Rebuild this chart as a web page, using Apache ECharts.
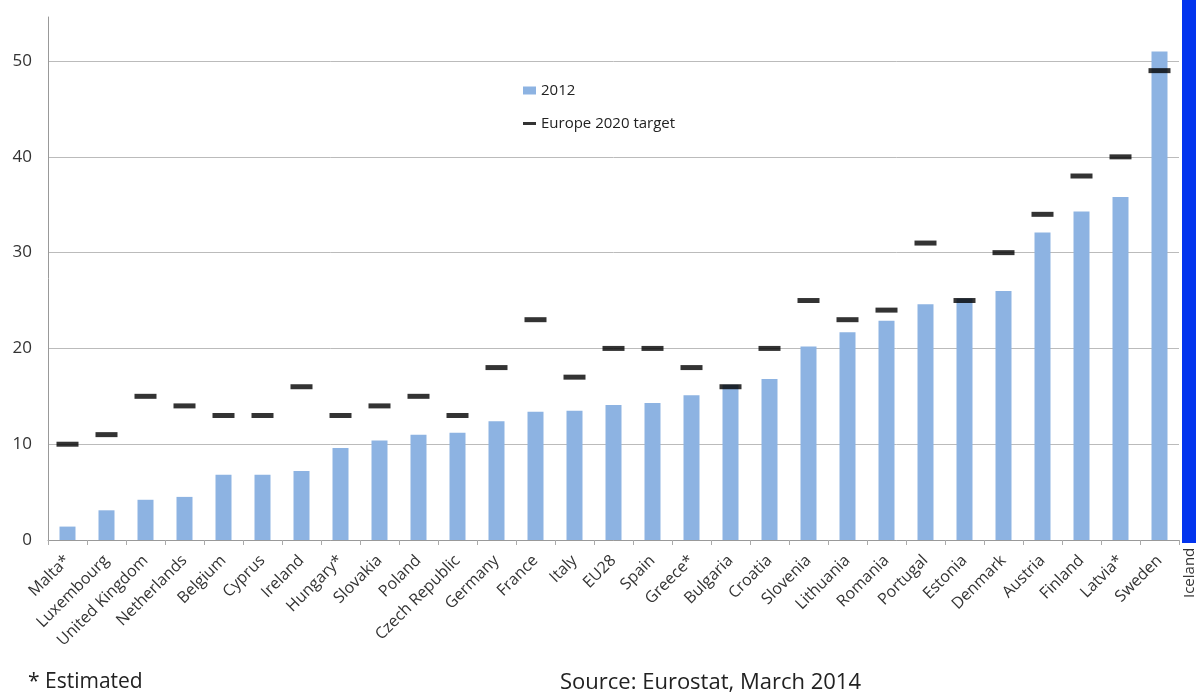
<!DOCTYPE html>
<html>
<head>
<meta charset="utf-8">
<script src="https://cdn.jsdelivr.net/npm/echarts@6/dist/echarts.min.js"></script>
<style>
html,body{margin:0;padding:0;background:#fff;}
#chart{width:1196px;height:696px;}
</style>
</head>
<body>
<div id="chart"></div>
<script>
var categories = ['Malta*','Luxembourg','United Kingdom','Netherlands','Belgium','Cyprus','Ireland','Hungary*','Slovakia','Poland','Czech Republic','Germany','France','Italy','EU28','Spain','Greece*','Bulgaria','Croatia','Slovenia','Lithuania','Romania','Portugal','Estonia','Denmark','Austria','Finland','Latvia*','Sweden'];
var values2012 = [1.4,3.1,4.2,4.5,6.8,6.8,7.2,9.6,10.4,11.0,11.2,12.4,13.4,13.5,14.1,14.3,15.1,16.2,16.8,20.2,21.7,22.9,24.6,25.2,26.0,32.1,34.3,35.8,51.0];
var targets2020 = [10,11,15,14,13,13,16,13,14,15,13,18,23,17,20,20,18,16,20,25,23,24,31,25,30,34,38,40,49];
var yTicks = [0,10,20,30,40,50];

var chart = echarts.init(document.getElementById('chart'));
var font = 'Open Sans, Liberation Sans, sans-serif';
chart.setOption({
  animation: false,
  backgroundColor: '#fff',
  grid: {left: 48, right: 17, top: 17, bottom: 156},
  legend: {
    orient: 'vertical',
    left: 518, top: 78,
    itemGap: 18,
    itemWidth: 13, itemHeight: 8,
    textStyle: {fontFamily: font, fontSize: 15, color: '#222'},
    data: [
      {name: '2012', icon: 'rect', itemStyle: {color: '#8DB3E2'}},
      {name: 'Europe 2020 target', icon: 'path://M0,3.5L13,3.5L13,6.5L0,6.5Z'}
    ]
  },
  xAxis: {
    type: 'category',
    data: categories,
    axisLine: {lineStyle: {color: '#999', width: 1}},
    axisTick: {show: true, length: 5, lineStyle: {color: '#aaa'}},
    axisLabel: {rotate: 45, interval: 0, fontFamily: font, fontSize: 16, color: '#333', margin: 18}
  },
  yAxis: {
    type: 'value',
    min: 0, max: 54.6, interval: 10,
    axisLine: {show: true, lineStyle: {color: '#999'}},
    axisTick: {show: false},
    axisLabel: {
      showMaxLabel: false,
      fontFamily: font, fontSize: 17, color: '#333', margin: 16,
      formatter: function (v) { return yTicks.indexOf(v) >= 0 ? String(v) : ''; }
    },
    splitLine: {lineStyle: {color: ['#bbb','#bbb','#bbb','#bbb','#bbb','#bbb','rgba(0,0,0,0)'], width: 1}}
  },
  series: [
    {
      name: '2012',
      type: 'bar',
      data: values2012,
      barWidth: 16,
      itemStyle: {color: '#8DB3E2'}
    },
    {
      name: 'Europe 2020 target',
      type: 'scatter',
      data: targets2020,
      symbol: 'rect',
      symbolSize: [22, 5],
      itemStyle: {color: '#000'},
      z: 5
    }
  ],
  graphic: [
    {type: 'rect', left: 1182, top: 0, shape: {width: 14, height: 543}, style: {fill: '#0234EE'}},
    {type: 'text', x: 1197, y: 598, rotation: Math.PI / 2, style: {text: 'Iceland', font: '15px ' + font, fill: '#333', textAlign: 'left', textVerticalAlign: 'bottom'}},
    {type: 'text', left: 28, top: 672, style: {text: '* Estimated', font: '21px ' + font, fill: '#222'}},
    {type: 'text', left: 560, top: 672, style: {text: 'Source: Eurostat, March 2014', font: '22px ' + font, fill: '#222'}}
  ]
});
</script>
</body>
</html>
